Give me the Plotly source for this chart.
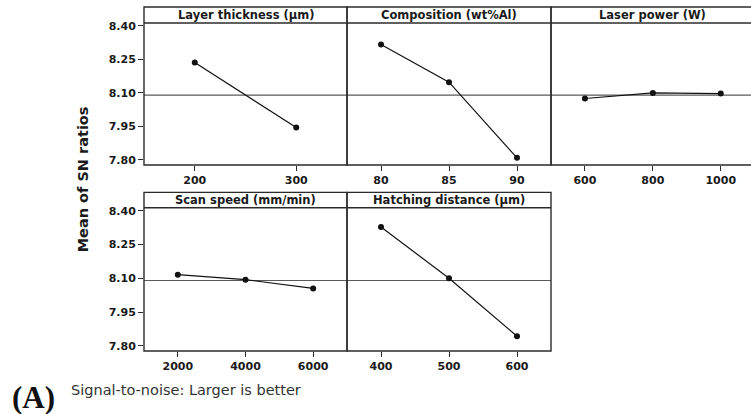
import numpy as np
import plotly.graph_objects as go

# Main effects plot for SN ratios (larger is better)
factor_titles = ["Layer thickness (μm)", "Composition (wt%Al)", "Laser power (W)",
                 "Scan speed (mm/min)", "Hatching distance (μm)"]
layer_levels = ["200", "300"]
layer_sn = [8.236, 7.945]
comp_levels = ["80", "85", "90"]
comp_sn = [8.317, 8.148, 7.809]
power_levels = ["600", "800", "1000"]
power_sn = [8.075, 8.100, 8.097]
speed_levels = ["2000", "4000", "6000"]
speed_sn = [8.116, 8.094, 8.055]
hatch_levels = ["400", "500", "600"]
hatch_sn = [8.328, 8.100, 7.843]
y_ticks = [7.80, 7.95, 8.10, 8.25, 8.40]

levels = [layer_levels, comp_levels, power_levels, speed_levels, hatch_levels]
values = [layer_sn, comp_sn, power_sn, speed_sn, hatch_sn]
grand_mean = float(np.mean([np.mean(v) for v in values]))

W, H = 751, 414
def px(x):
    return x / W
def py(y):
    return 1 - y / H

# panel geometry in pixels: (left, right, header_top, header_bottom, axis_bottom)
col_edges = [(144, 347), (347, 551), (551, 754.7)]
rows = [(4, 20.3, 164), (191.7, 207.3, 352.3)]
panel_pos = [(0, 0), (0, 1), (0, 2), (1, 0), (1, 1)]

fig = go.Figure()
layout = dict(
    width=W, height=H, margin=dict(l=0, r=0, t=0, b=0),
    paper_bgcolor="white", plot_bgcolor="white", showlegend=False,
)
shapes = []
annotations = []
frame_col = "#2b2b2b"
tick_font = dict(family="DejaVu Sans", size=11, color="#1a1a1a", weight="bold")

for i, (r, c) in enumerate(panel_pos):
    n = i + 1
    xa = "x" if n == 1 else f"x{n}"
    ya = "y" if n == 1 else f"y{n}"
    left, right = col_edges[c]
    htop, hbot, abot = rows[r]
    right_clip = min(right, W)
    nlev = len(levels[i])
    spacing = (right - left) / nlev
    xr = [-0.5, nlev - 0.5 - (right - right_clip) / spacing]

    fig.add_trace(go.Scatter(
        x=list(range(nlev)), y=values[i], xaxis=xa, yaxis=ya,
        mode="lines+markers",
        line=dict(color="#111111", width=1.2),
        marker=dict(color="#111111", size=6),
        hoverinfo="skip",
    ))

    layout["xaxis" if n == 1 else f"xaxis{n}"] = dict(
        domain=[px(left), px(right_clip)], anchor=ya, range=xr,
        tickmode="array", tickvals=list(range(nlev)), ticktext=levels[i],
        ticks="outside", ticklen=5, tickcolor=frame_col, tickwidth=1,
        showgrid=False, zeroline=False, showline=False,
        tickfont=tick_font, fixedrange=True,
    )
    layout["yaxis" if n == 1 else f"yaxis{n}"] = dict(
        domain=[py(abot), py(hbot)], anchor=xa, range=[7.777, 8.413],
        tickmode="array", tickvals=y_ticks, tickformat=".2f",
        ticks="outside" if c == 0 else "", ticklen=5, tickcolor=frame_col,
        showticklabels=(c == 0),
        showgrid=False, zeroline=False, showline=False,
        tickfont=tick_font, fixedrange=True,
    )

    # overall mean reference line
    shapes.append(dict(type="line", xref=f"{xa} domain", yref=ya,
                       x0=0, x1=1, y0=grand_mean, y1=grand_mean,
                       line=dict(color="#5a5a5a", width=1.2), layer="below"))
    # panel frame and header strip
    shapes.append(dict(type="rect", xref="paper", yref="paper",
                       x0=px(left), x1=px(right), y0=py(abot), y1=py(htop),
                       line=dict(color=frame_col, width=1.4)))
    shapes.append(dict(type="line", xref="paper", yref="paper",
                       x0=px(left), x1=px(right), y0=py(hbot), y1=py(hbot),
                       line=dict(color=frame_col, width=1.4)))
    annotations.append(dict(
        text=f"<b>{factor_titles[i]}</b>", xref="paper", yref="paper",
        x=px((left + right) / 2), y=py((htop + hbot) / 2),
        xanchor="center", yanchor="middle", showarrow=False,
        font=dict(family="DejaVu Sans", size=11.5, color="#1a1a1a"),
    ))

annotations.append(dict(
    text="<b>Mean of SN ratios</b>", xref="paper", yref="paper",
    x=px(83), y=py(178.5), xanchor="center", yanchor="middle",
    textangle=-90, showarrow=False,
    font=dict(family="DejaVu Sans", size=14.5, color="#1a1a1a"),
))
annotations.append(dict(
    text="<b>(A)</b>", xref="paper", yref="paper",
    x=px(33.5), y=py(399), xanchor="center", yanchor="middle", showarrow=False,
    font=dict(family="Liberation Serif", size=31, color="#111111"),
))
annotations.append(dict(
    text="Signal-to-noise: Larger is better", xref="paper", yref="paper",
    x=px(69), y=py(391.5), xanchor="left", yanchor="middle", showarrow=False,
    font=dict(family="DejaVu Sans", size=14.5, color="#333333"),
))

layout["shapes"] = shapes
layout["annotations"] = annotations
fig.update_layout(**layout)
fig.write_html("out.html")
